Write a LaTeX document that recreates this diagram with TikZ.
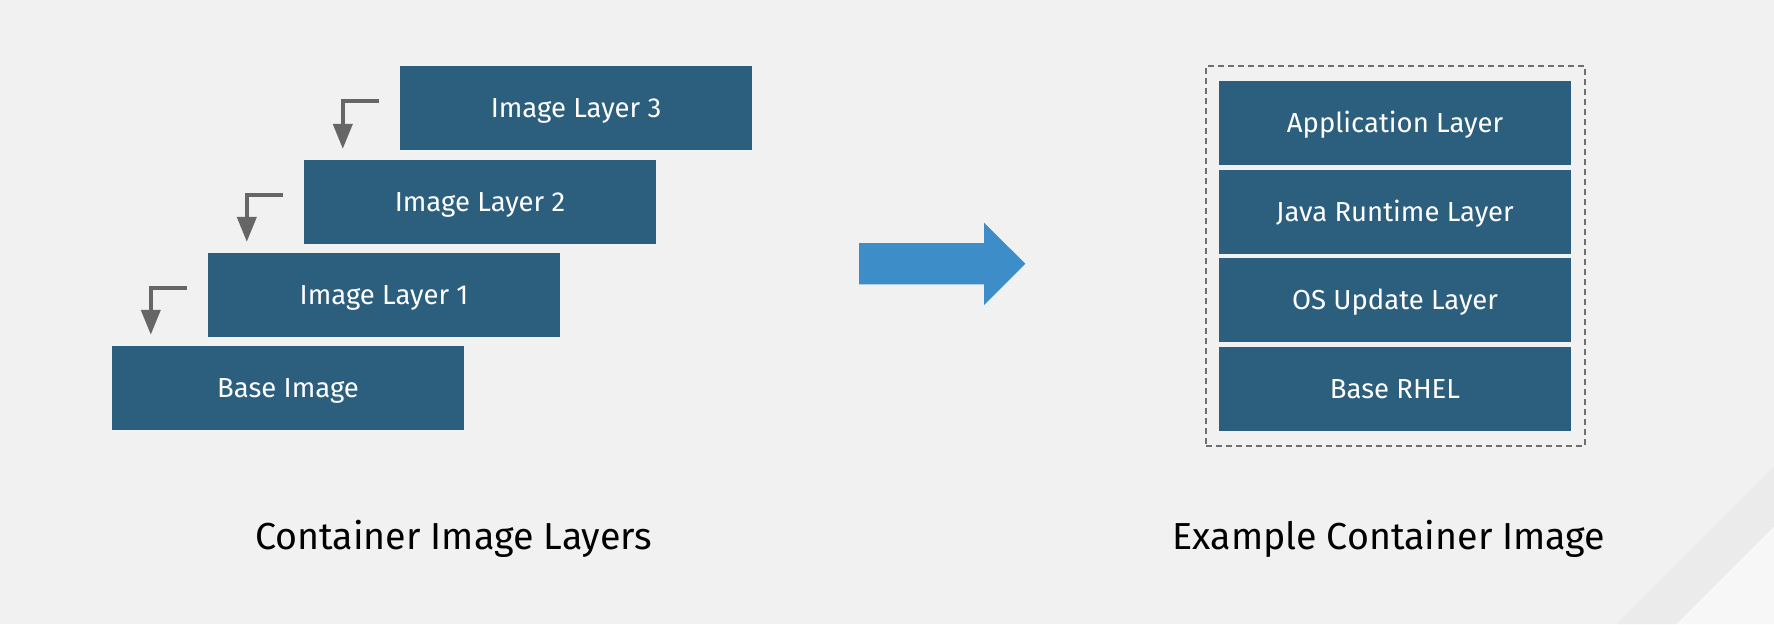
\documentclass[tikz,border=0pt]{standalone}
\usepackage{fontspec}
\setmainfont{Fira Sans}
\usetikzlibrary{arrows.meta,fit}
\definecolor{bgc}{HTML}{F1F1F1}
\definecolor{boxc}{HTML}{2C5F7E}
\definecolor{arrc}{HTML}{3D8DC9}
\definecolor{elbc}{HTML}{666666}
\definecolor{dashc}{HTML}{707070}
\tikzset{
	x=1pt, y=-1pt,
	layer/.style={fill=boxc, text=white, minimum width=352pt, minimum height=84pt, inner sep=0pt,
		text height=18.9pt, text depth=0pt, font=\fontsize{27.5}{32}\selectfont},
	elbow/.style={draw=elbc, line width=4pt, -{Triangle[length=25pt, width=19pt]}},
	caption/.style={anchor=base, font=\fontsize{37.6}{44}\selectfont}
}
\newcommand{\stepdown}[2]{
	\draw[elbow]([xshift=-21pt, yshift=6.8pt]#1.west) -| ([xshift=39pt, yshift=10.7pt]#2.north west);
}

\begin{document}
\begin{tikzpicture}
	\fill[bgc](0, 0) rectangle (1774, 624);
	\fill[black!8](1616.7, 624)--(1774, 466.7)--(1774, 526.7)--(1676.7, 624)--cycle;
	\fill[black!3](1676.7, 624)--(1774, 526.7)--(1774, 624)--cycle;

	\node[layer](base)at(288, 387.7){Base Image};
	\node[layer](l1)at(384, 294.8){Image Layer 1};
	\node[layer](l2)at(480, 201.8){Image Layer 2};
	\node[layer](l3)at(576, 107.8){Image Layer 3};
	\stepdown{l3}{l2}
	\stepdown{l2}{l1}
	\stepdown{l1}{base}
	\node[caption](capl)at(453.7, 549.3){Container Image Layers};

	\fill[arrc](859, 243)--(984, 243)--(984, 222.7)--(1025.3, 263.7)--(984, 305)--(984, 284.3)--(859, 284.3)--cycle;

	\node[layer](app)at(1395, 123){Application Layer};
	\node[layer](java)at(1395, 211.8){Java Runtime Layer};
	\node[layer](os)at(1395, 300){OS Update Layer};
	\node[layer](rhel)at(1395, 388.8){Base RHEL};
	\node[draw=dashc, line width=2pt, dash pattern=on 6pt off 4pt, inner xsep=13.3pt, inner ysep=15pt, fit=(app)(rhel)](img){};
	\node[caption](capr)at(1389, 549.3){Example Container Image};
\end{tikzpicture}
\end{document}
